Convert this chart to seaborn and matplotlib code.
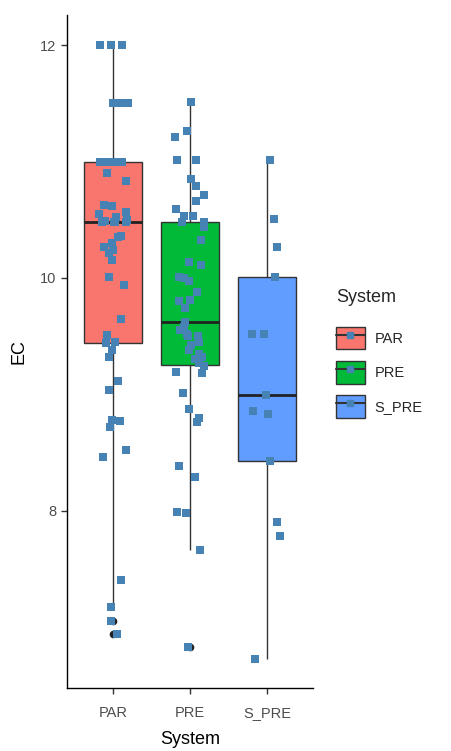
import numpy as np
import pandas as pd
import matplotlib
matplotlib.use("Agg")
import matplotlib.pyplot as plt
import seaborn as sns
from matplotlib.patches import Patch
from matplotlib.lines import Line2D
from matplotlib.legend_handler import HandlerTuple

systems = ["PAR", "PRE", "S_PRE"]

par_ec = [12.0, 12.0, 12.0,
          11.5, 11.5, 11.5, 11.5,
          11.0, 11.0, 11.0, 11.0, 11.0, 11.0, 11.0,
          10.9, 10.83,
          10.63, 10.62, 10.57, 10.55,
          10.52, 10.5, 10.49, 10.48, 10.48, 10.48, 10.48,
          10.36, 10.35, 10.3, 10.27, 10.24, 10.21, 10.15,
          10.01, 9.94, 9.65, 9.51,
          9.45, 9.44, 9.38, 9.32,
          9.11, 9.04,
          8.78, 8.77, 8.72, 8.52, 8.46,
          7.40, 7.17, 7.05, 6.94]

pre_ec = [11.51, 11.26, 11.21, 11.01, 11.01,
          10.85, 10.79, 10.71, 10.66, 10.59,
          10.53, 10.53, 10.48, 10.48, 10.44,
          10.33, 10.14, 10.11, 10.01, 10.0, 9.97,
          9.88, 9.81, 9.8, 9.74, 9.62,
          9.58, 9.55, 9.52, 9.5, 9.5, 9.45, 9.42, 9.38,
          9.35, 9.32, 9.3, 9.27, 9.24, 9.19, 9.18,
          9.01, 8.87, 8.80, 8.76,
          8.38, 8.29, 7.99, 7.98, 7.66, 6.83]

spre_ec = [11.01, 10.51, 10.27, 10.01, 9.52, 9.52,
           8.99, 8.86, 8.83, 8.43, 7.90, 7.78, 6.72]

box_colors = ["#F8766D", "#00BA38", "#619CFF"]
point_color = "#4682B4"

df = pd.DataFrame({
    "System": ["PAR"] * len(par_ec) + ["PRE"] * len(pre_ec) + ["S_PRE"] * len(spre_ec),
    "EC": par_ec + pre_ec + spre_ec,
})

sns.set_style("white")
plt.rcParams['font.family'] = ['Liberation Sans', 'DejaVu Sans']

W, H = 451, 751
fig = plt.figure(figsize=(W / 100, H / 100), dpi=100)
ax = fig.add_axes([67 / W, 1 - 688 / H, (313 - 67) / W, (688 - 15) / H])

sns.boxplot(data=df, x="System", y="EC", order=systems, hue="System",
            hue_order=systems, palette=box_colors, saturation=1,
            width=0.75, linewidth=1.0, linecolor="#333333",
            showcaps=False, whis=1.5,
            flierprops=dict(marker="o", markerfacecolor="#222222",
                            markeredgecolor="#222222", markersize=4.5),
            medianprops=dict(linewidth=2.0, color="#222222"),
            legend=False, ax=ax)

np.random.seed(7)
sns.stripplot(data=df, x="System", y="EC", order=systems, color=point_color,
              marker="s", size=5.5, jitter=0.2, linewidth=0, zorder=4, ax=ax)

ax.set_xlim(-0.6, 2.6)
ax.set_ylim(6.475, 12.26)
ax.set_yticks([8, 10, 12])
for s in ["top", "right"]:
    ax.spines[s].set_visible(False)
for s in ["left", "bottom"]:
    ax.spines[s].set_color("black")
    ax.spines[s].set_linewidth(1.0)
ax.tick_params(axis="both", direction="out", length=4, width=1.0,
               color="#333333", labelcolor="#4D4D4D", labelsize=10.5,
               left=True, bottom=True)
ax.tick_params(axis="x", pad=9)
ax.set_xlabel("System", fontsize=13, color="black", labelpad=8)
ax.set_ylabel("EC", fontsize=13, color="black", labelpad=9)

handles = []
for c in box_colors:
    handles.append((Patch(facecolor=c, edgecolor="#333333", linewidth=1.0),
                    Line2D([], [], color="#333333", linewidth=1.5),
                    Line2D([], [], marker="s", color=point_color, linestyle="None", markersize=5)))
leg = fig.legend(handles, systems, handler_map={tuple: HandlerTuple(ndivide=1, pad=0)},
                 title="System", loc="upper left", bbox_to_anchor=(323 / W, 1 - 276 / H),
                 frameon=False, handlelength=1.95, handleheight=2.0, labelspacing=0.8,
                 fontsize=10.5, title_fontsize=13, alignment="left", handletextpad=0.7)
leg._legend_box.sep = 15

fig.savefig("out.png", dpi=100)
